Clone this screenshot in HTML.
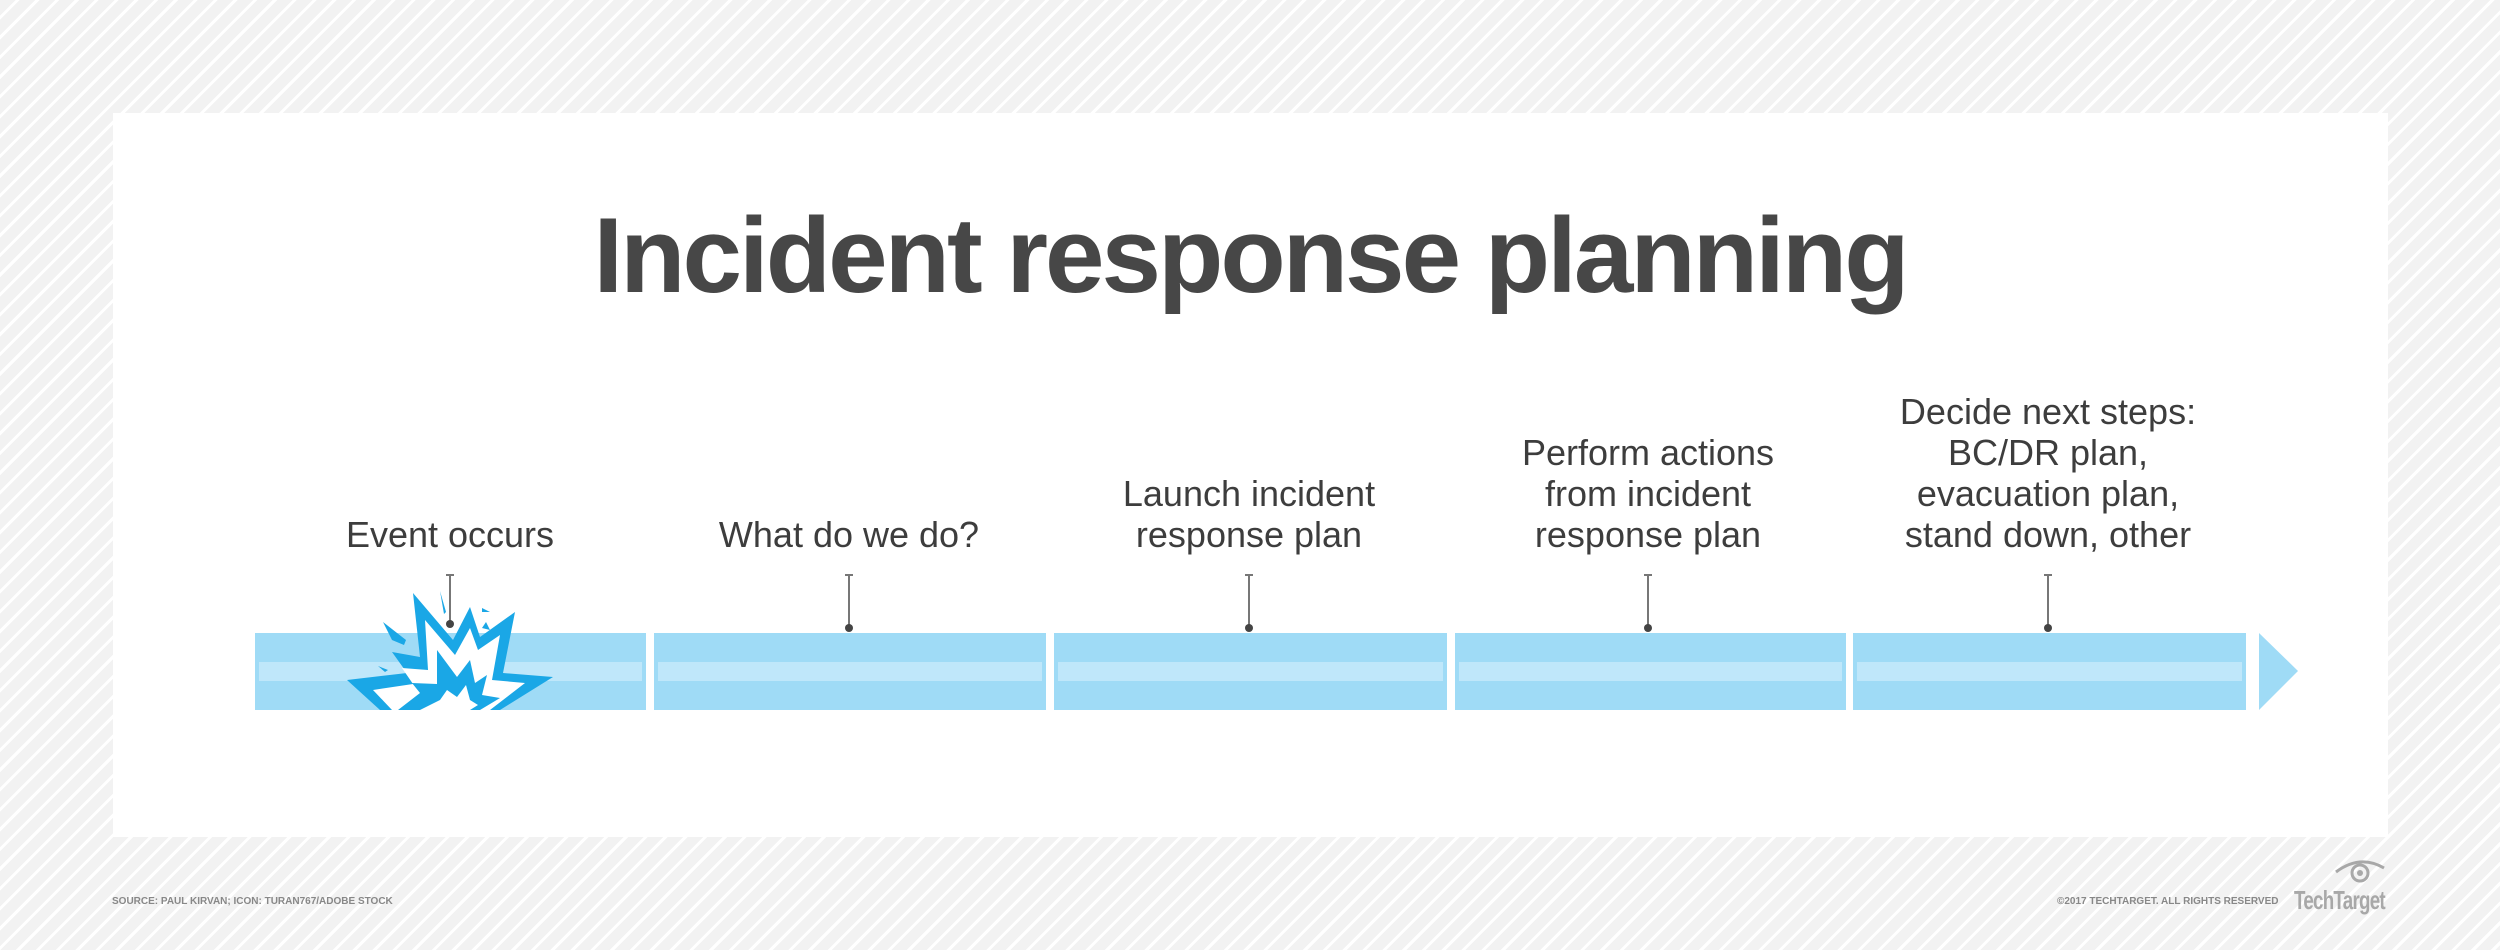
<!DOCTYPE html>
<html><head><meta charset="utf-8"><style>
html,body{margin:0;padding:0}
body{width:2500px;height:950px;position:relative;overflow:hidden;font-family:"Liberation Sans",sans-serif;
background:repeating-linear-gradient(135deg,#f2f2f2 0 11px,#fff 11px 14px);}
.card{position:absolute;left:113px;top:113px;width:2275px;height:724px;background:#fff}
.title{position:absolute;left:0;width:2500px;top:190px;text-align:center;font-size:107px;font-weight:bold;color:#474747;letter-spacing:-3px;line-height:130px}
.lab{position:absolute;width:440px;text-align:center;font-size:36px;color:#3d3d3d;line-height:41px;bottom:395px}
.tick{position:absolute;width:2px;background:#777;top:574px;height:54px}
.tick:after{content:"";position:absolute;left:-3px;bottom:-4px;width:8px;height:8px;border-radius:50%;background:#444}
.tick:before{content:"";position:absolute;left:-3px;top:0;width:8px;height:2px;background:#777}
.seg{position:absolute;top:633px;height:77px;background:#9fdbf6}
.seg:after{content:"";position:absolute;left:4px;right:4px;top:29px;height:19px;background:#bfe7fa}
.foot{position:absolute;font-size:10px;font-weight:bold;color:#888;top:896px;white-space:nowrap}
</style></head><body>
<div class="card"></div>
<div class="title">Incident response planning</div>

<div class="seg" style="left:255px;width:391px"></div>
<div class="seg" style="left:654px;width:392px"></div>
<div class="seg" style="left:1054px;width:393px"></div>
<div class="seg" style="left:1455px;width:391px"></div>
<div class="seg" style="left:1853px;width:393px"></div>
<svg style="position:absolute;left:0;top:0" width="2500" height="950">
<polygon points="2259,633 2298,671 2259,710" fill="#9fdbf6"/>
<g>
<polygon points="347,680 407,673 392,652 420,657 413,593 453,640 470,607 480,637 515,612 503,673 553,677 500,710 380,710" fill="#1aa7e6"/>
<polygon points="373,690 413,684 402,668 428,670 425,620 455,655 470,628 478,650 500,635 492,680 525,683 490,710 392,710" fill="#fff"/>
<polygon points="398,710 420,693 412,683 437,684 437,650 457,677 470,660 475,683 487,675 482,695 500,698 480,710" fill="#1aa7e6"/>
<polygon points="420,710 440,700 447,690 457,697 466,685 470,700 478,705 470,710" fill="#fff"/>
<polygon points="383,622 406,640 404,645 392,640" fill="#1aa7e6"/>
<polygon points="440,591 446,612 444,614" fill="#1aa7e6"/>
<polygon points="482,608 490,612 482,612" fill="#1aa7e6"/>
<polygon points="486,622 490,630 482,628" fill="#1aa7e6"/>
<polygon points="378,666 388,670 385,672" fill="#1aa7e6"/>
</g>
</svg>

<div class="tick" style="left:449px;height:50px"></div>
<div class="tick" style="left:848px"></div>
<div class="tick" style="left:1248px"></div>
<div class="tick" style="left:1647px"></div>
<div class="tick" style="left:2047px"></div>

<div class="lab" style="left:230px">Event occurs</div>
<div class="lab" style="left:629px">What do we do?</div>
<div class="lab" style="left:1029px">Launch incident<br>response plan</div>
<div class="lab" style="left:1428px">Perform actions<br>from incident<br>response plan</div>
<div class="lab" style="left:1828px">Decide next steps:<br>BC/DR plan,<br>evacuation plan,<br>stand down, other</div>

<div class="foot" style="left:112px">SOURCE: PAUL KIRVAN; ICON: TURAN767/ADOBE STOCK</div>
<div class="foot" style="left:2057px">©2017 TECHTARGET. ALL RIGHTS RESERVED</div>
<div style="position:absolute;left:2294px;top:885px;font-size:26px;font-weight:bold;color:#a8a8a8;letter-spacing:-1px;transform-origin:0 0;transform:scaleX(0.72);white-space:nowrap">TechTarget</div>
<svg style="position:absolute;left:2330px;top:858px" width="60" height="30">
<path d="M6,14 Q30,-4 54,10" stroke="#a8a8a8" stroke-width="3" fill="none"/>
<circle cx="30" cy="15" r="8" stroke="#a8a8a8" stroke-width="3" fill="none"/>
<circle cx="30" cy="15" r="3" fill="#a8a8a8"/>
</svg>
</body></html>
